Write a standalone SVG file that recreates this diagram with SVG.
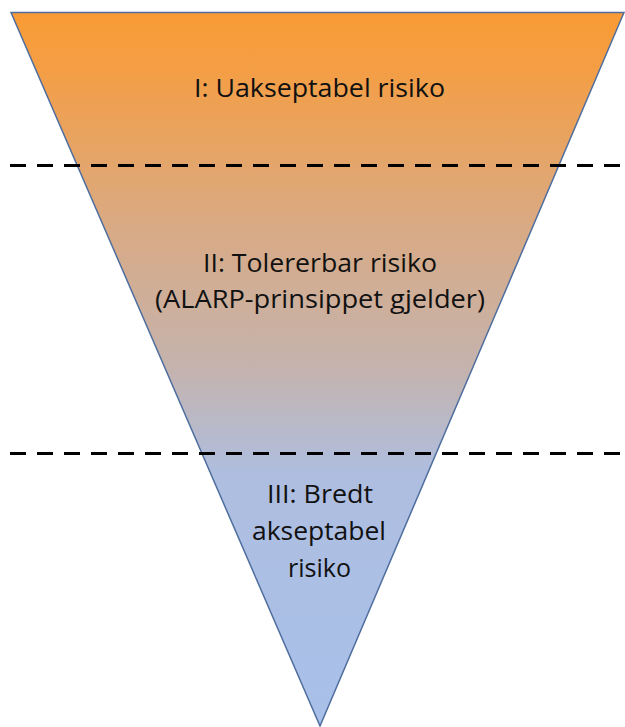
<svg xmlns="http://www.w3.org/2000/svg" width="625" height="727" viewBox="0 0 625 727">
<defs>
<linearGradient id="g" gradientUnits="userSpaceOnUse" x1="0" y1="12" x2="0" y2="726">
<stop offset="0" stop-color="#F99B35"/>
<stop offset="0.08" stop-color="#F49E45"/>
<stop offset="0.3" stop-color="#D9AA84"/>
<stop offset="0.5" stop-color="#C4B3AE"/>
<stop offset="0.65" stop-color="#AEBEE0"/>
<stop offset="1" stop-color="#A8C0E9"/>
</linearGradient>
<style>
.t{font-family:"Open Sans","Liberation Sans",sans-serif;font-size:25px;fill:#111;text-anchor:middle}
.d{stroke:#000;stroke-width:3;stroke-dasharray:16 11;fill:none}
</style>
</defs>
<g id="funnel">
<polygon points="11,12.5 624,12.5 320,726" fill="url(#g)" stroke="#4F6E9E" stroke-width="1.5"/>
</g>
<g id="connectors">
<line class="d" x1="10" y1="165.5" x2="625" y2="165.5"/>
<line class="d" x1="10" y1="453.5" x2="625" y2="453.5"/>
</g>
<g id="zone1">
<text class="t" x="319.5" y="97" textLength="251" lengthAdjust="spacingAndGlyphs">I: Uakseptabel risiko</text>
</g>
<g id="zone2">
<text class="t" x="320" y="272" textLength="234" lengthAdjust="spacingAndGlyphs">II: Tolererbar risiko</text>
<text class="t" x="320" y="308" textLength="330" lengthAdjust="spacingAndGlyphs">(ALARP-prinsippet gjelder)</text>
</g>
<g id="zone3">
<text class="t" x="320" y="503" textLength="106" lengthAdjust="spacingAndGlyphs">III: Bredt</text>
<text class="t" x="319" y="540" textLength="134" lengthAdjust="spacingAndGlyphs">akseptabel</text>
<text class="t" x="319.5" y="577" textLength="63" lengthAdjust="spacingAndGlyphs">risiko</text>
</g>
</svg>
